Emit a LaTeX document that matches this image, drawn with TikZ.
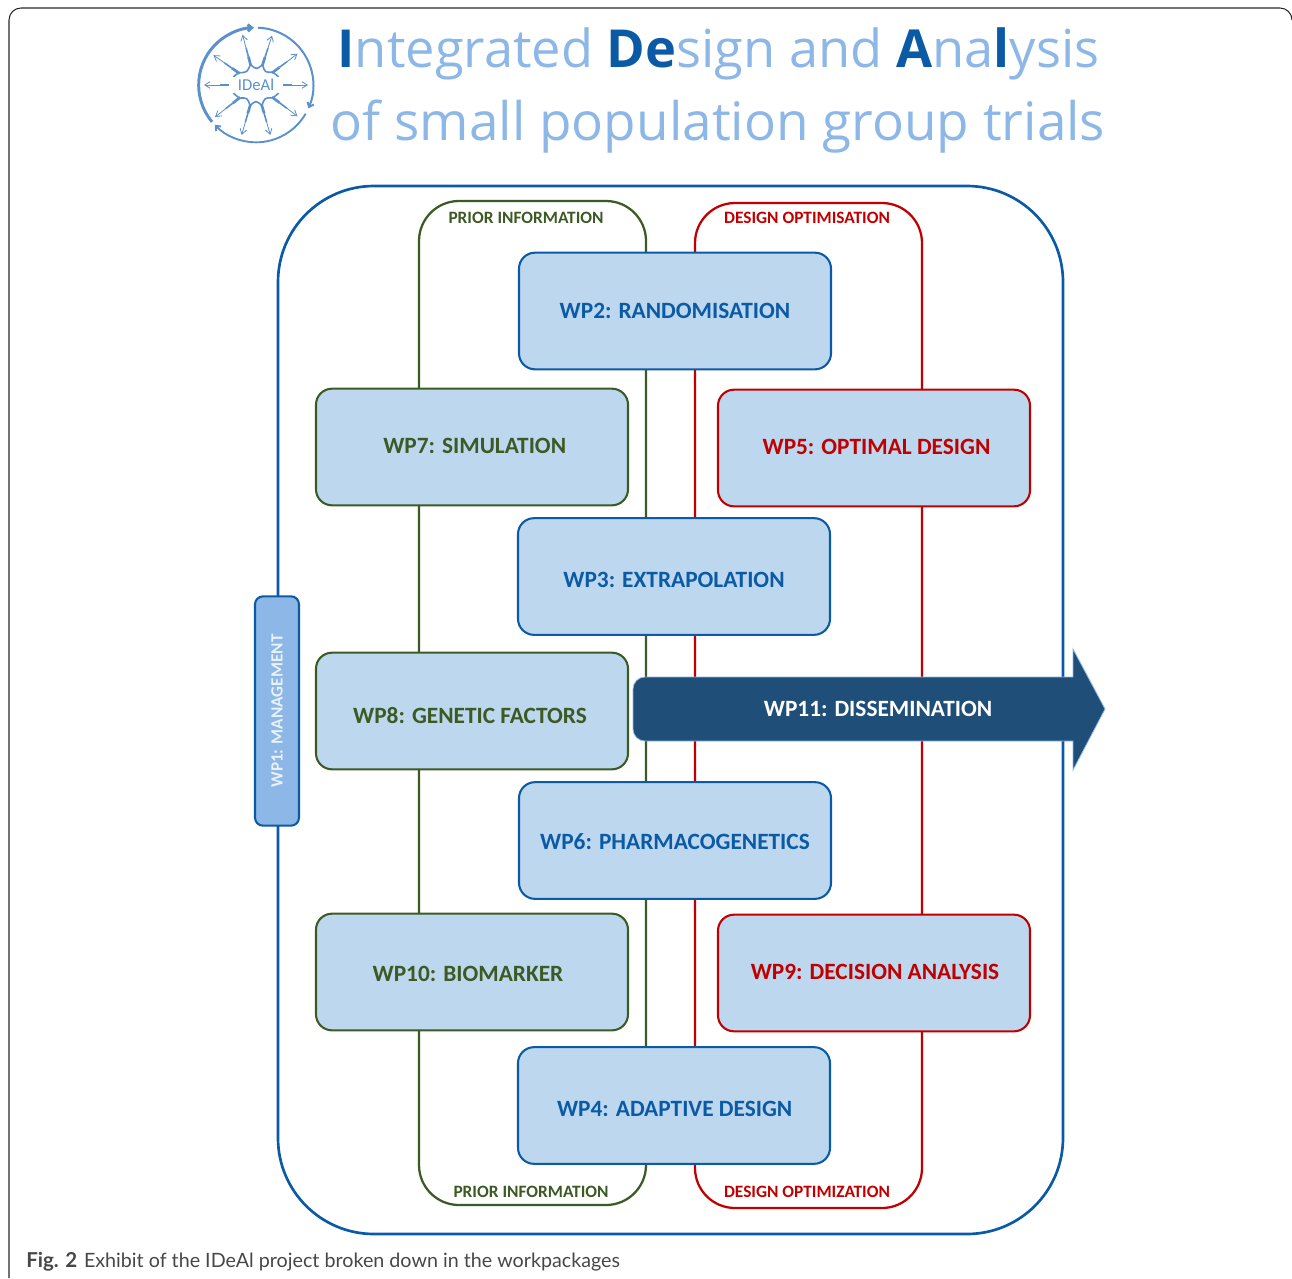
\documentclass[tikz,border=0pt]{standalone}
\usetikzlibrary{arrows.meta}
\usepackage{fontspec}
\setmainfont{Carlito}
\newfontfamily\titlefont{Open Sans}
\newfontfamily\capfont{Lato}
\definecolor{ltblue}{HTML}{8DB7E6}
\definecolor{dkblue}{HTML}{0B5AA5}
\definecolor{boxfill}{HTML}{BDD7EE}
\definecolor{wpgreen}{HTML}{3B5A24}
\definecolor{wpred}{HTML}{C00000}
\definecolor{navy}{HTML}{1F4E79}
\definecolor{logoblue}{HTML}{5A90CC}
\tikzset{
 x=0.75pt,y=-0.75pt,
 wpbox/.style={draw,line width=1.55pt,fill=boxfill,rounded corners=12pt,minimum width=234pt,minimum height=87.5pt,inner sep=0pt,font=\fontsize{17.5}{20}\selectfont\bfseries},
 lane/.style={line width=1.7pt,rounded corners=30pt},
 lanelabel/.style={font=\fontsize{13}{15}\selectfont\bfseries,inner sep=0pt},
 titleline/.style={font=\titlefont\selectfont,text=ltblue,inner sep=0pt,anchor=base},
 ringbarb/.style={-{Straight Barb[length=3pt,width=5pt]}},
}
\newcommand{\dk}[1]{\textcolor{dkblue}{\bfseries #1}}
% horizontal offset (twice the wanted shift, as the node recentres) and vertical offset
\newcommand{\offs}[3]{\hspace*{#1}\raisebox{#2}[\height][\depth]{#3}}
\begin{document}
\begin{tikzpicture}
\useasboundingbox (0,0) rectangle (1292,1278);
% page frame
\draw[line width=0.8pt,black!85] (9,1278) -- (9,20) arc[start angle=180,end angle=90,radius=9pt] -- (1280,8) arc[start angle=90,end angle=0,radius=9pt];
% logo
\begin{scope}[shift={(256,85)},logoblue]
\draw[line width=1.5pt,ringbarb] (88:43pt) arc[start angle=88,end angle=-24,radius=43pt];
\draw[line width=1.4pt,ringbarb] (-30:43pt) arc[start angle=-30,end angle=-136,radius=43pt];
\draw[line width=2.2pt,ringbarb] (-140:43pt) arc[start angle=-140,end angle=-268,radius=43pt];
\foreach \a in {105,72,37,-37,-74,-106,-142,145}{
  \draw[line width=2pt] (\a:15pt) -- (\a:22pt);
  \draw[line width=1.2pt] (\a:22pt) -- (\a:29pt);
  \draw[line width=0.6pt,-{Straight Barb[length=4pt,width=5pt]}] (\a:29pt) -- (\a:39pt);
}
\foreach \a in {0,180}{
  \draw[line width=1.6pt] (\a:20pt) -- (\a:27pt);
  \draw[line width=0.6pt,-{Straight Barb[length=4pt,width=5pt]}] (\a:27pt) -- (\a:39pt);
}
\foreach \p/\q in {105/72,-74/-106,145/105,72/37,-37/-74,-106/-142}{
  \draw[line width=1.2pt] (\p:16pt) .. controls ({(\p+\q)/2}:11.5pt) .. (\q:16pt);
}
\draw[line width=1.2pt] (37:16pt) -- (20:18pt);
\draw[line width=1.2pt] (-37:16pt) -- (-20:18pt);
\draw[line width=1.2pt] (145:16pt) -- (160:18pt);
\draw[line width=1.2pt] (-142:16pt) -- (-160:18pt);
\node[inner sep=0pt,text=logoblue,font=\fontsize{12.5}{14}\selectfont] (logotext) at (0,0) {IDeAl};
\end{scope}
% title
\node[titleline,font=\titlefont\fontsize{39.3}{48}\selectfont] (title1) at (718.5,67) {\dk{I}ntegrated \dk{De}sign and \dk{A}na\dk{l}ysis};
\node[titleline,font=\titlefont\fontsize{39.8}{48}\selectfont] (title2) at (718,140) {of small population group trials};
% lanes
\draw[dkblue,line width=2pt,rounded corners=72pt] (278,186) rectangle (1063,1234);
\draw[wpgreen,lane] (419,201) rectangle (646,1205);
\draw[wpred,lane] (695,203) rectangle (922,1208);
\node[lanelabel,text=wpgreen] (pi1) at (526,218) {PRIOR INFORMATION};
\node[lanelabel,text=wpred] (do1) at (807,218) {DESIGN OPTIMISATION};
\node[lanelabel,text=wpgreen] (pi2) at (531,1192) {PRIOR INFORMATION};
\node[lanelabel,text=wpred] (do2) at (807,1192) {DESIGN OPTIMIZATION};
% central boxes
\node[wpbox,draw=dkblue,text=dkblue] (wp2) at (675,311) {\offs{0pt}{0pt}{WP2: RANDOMISATION}};
\node[wpbox,draw=dkblue,text=dkblue] (wp3) at (674,576.5) {\offs{0pt}{-2.25pt}{WP3: EXTRAPOLATION}};
\node[wpbox,draw=dkblue,text=dkblue] (wp6) at (675,840.5) {\offs{0pt}{-0.75pt}{WP6: PHARMACOGENETICS}};
\node[wpbox,draw=dkblue,text=dkblue] (wp4) at (674,1105.5) {\offs{1pt}{-2.25pt}{WP4: ADAPTIVE DESIGN}};
% left boxes
\node[wpbox,draw=wpgreen,text=wpgreen] (wp7) at (472,447) {\offs{4pt}{0.75pt}{WP7: SIMULATION}};
\node[wpbox,draw=wpgreen,text=wpgreen] (wp8) at (472,711) {\offs{0pt}{-3.75pt}{WP8: GENETIC FACTORS}\kern3pt};
\node[wpbox,draw=wpgreen,text=wpgreen] (wp10) at (472,972) {\offs{0pt}{-1.5pt}{WP10: BIOMARKER}\kern6pt};
% right boxes
\node[wpbox,draw=wpred,text=wpred] (wp5) at (874,448) {\offs{3.75pt}{0.75pt}{WP5: OPTIMAL DESIGN}};
\node[wpbox,draw=wpred,text=wpred] (wp9) at (874,973) {\offs{1.5pt}{0.75pt}{WP9: DECISION ANALYSIS}};
% WP1
\node[draw=dkblue,line width=1.55pt,fill=ltblue,rounded corners=6pt,minimum width=172pt,minimum height=33pt,inner sep=0pt,text=boxfill!35!white,font=\fontsize{12.9}{16}\selectfont\bfseries,rotate=90] (wp1) at (277,711) {WP1: MANAGEMENT};
% WP11 arrow
\draw[fill=navy,draw=ltblue,line width=0.6pt] (645,677) -- (1073,677) -- (1073,649) -- (1105,709) -- (1073,770) -- (1073,741) -- (645,741) arc[start angle=270,end angle=180,radius=9pt] -- (633,689) arc[start angle=180,end angle=90,radius=9pt] -- cycle;
\node[text=white,inner sep=0pt,font=\fontsize{17.5}{20}\selectfont\bfseries] (wp11) at (878,708.5) {WP11: DISSEMINATION};
% caption
\node[anchor=base west,inner sep=0pt,font=\capfont\fontsize{14.78}{18}\selectfont,text=black!72] (caption) at (26,1267) {{\fontsize{15.4}{18}\selectfont\bfseries Fig. 2} \kern1.2pt Exhibit of the IDeAl project broken down in the workpackages};
\end{tikzpicture}
\end{document}
